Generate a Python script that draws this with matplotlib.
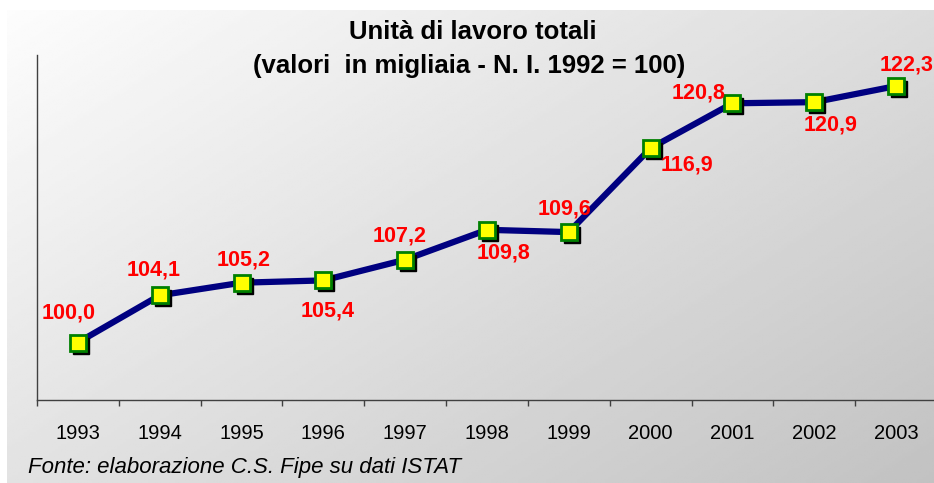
import numpy as np
import matplotlib.pyplot as plt
from matplotlib.transforms import offset_copy

plt.rcParams['font.family'] = ['Liberation Sans', 'DejaVu Sans']

years = ['1993', '1994', '1995', '1996', '1997', '1998',
         '1999', '2000', '2001', '2002', '2003']
values = [100.0, 104.1, 105.2, 105.4, 107.2, 109.8,
          109.6, 116.9, 120.8, 120.9, 122.3]
labels = ['100,0', '104,1', '105,2', '105,4', '107,2', '109,8',
          '109,6', '116,9', '120,8', '120,9', '122,3']
# label offsets (pixels) relative to each point
offsets = [(-9, 30), (-6, 25), (2, 23), (4, -31), (-6, 24), (17, -23),
           (-4, 23), (36, -17), (-34, 10), (16, -23), (10, 21)]

W, H = 934, 483
fig = plt.figure(figsize=(W / 100, H / 100), dpi=100)

# gradient background panel
bg = fig.add_axes([7 / W, 0, 1 - 7 / W, (H - 10) / H])
yy, xx = np.mgrid[0:1:200j, 0:1:300j]
grad = 0.99 - 0.23 * (0.55 * xx + 0.45 * yy)
bg.imshow(grad, cmap='gray', vmin=0, vmax=1, aspect='auto',
          extent=[0, 1, 0, 1], origin='upper')
bg.axis('off')

ax = fig.add_axes([37 / W, (H - 400) / H, 900 / W, 345 / H])
ax.patch.set_alpha(0)
x = np.arange(len(years))

ax.plot(x, values, color='#000080', lw=4.5, zorder=2, solid_joinstyle='miter')
shadow = offset_copy(ax.transData, fig=fig, x=3, y=-3, units='dots')
ax.plot(x, values, 's', ms=11, color='black', transform=shadow, zorder=3)
ax.plot(x, values, 's', ms=11, mfc='#ffff00', mec='#008000', mew=2, zorder=4)

for xi, v, lab, (dx, dy) in zip(x, values, labels, offsets):
    ax.annotate(lab, (xi, v), xytext=(dx, dy), textcoords='offset pixels',
                ha='center', va='center', color='#ff0000',
                fontsize=15.5, fontweight='bold', zorder=5)

ax.set_xlim(-0.5, len(years) - 0.5)
ax.set_ylim(95, 125)
ax.set_yticks([])
ax.set_xticks(np.arange(-0.5, len(years), 1.0))
ax.set_xticklabels([])
ax.set_xticks(x, minor=True)
ax.set_xticklabels(years, minor=True, fontsize=14.5)
ax.tick_params(axis='x', which='major', direction='out', length=4,
               width=1, color='#404040')
ax.tick_params(axis='x', which='minor', length=0, pad=17)
for s in ['top', 'right']:
    ax.spines[s].set_visible(False)
for s in ['left', 'bottom']:
    ax.spines[s].set_color('#404040')
    ax.spines[s].set_linewidth(1)

fig.text(473 / W, 1 - 32 / H, 'Unità di lavoro totali', ha='center',
         va='center', fontsize=18.5, fontweight='bold')
fig.text(469 / W, 1 - 66 / H, '(valori  in migliaia - N. I. 1992 = 100)',
         ha='center', va='center', fontsize=18.5, fontweight='bold')
fig.text(28 / W, 1 - 468 / H, 'Fonte: elaborazione C.S. Fipe su dati ISTAT',
         ha='left', va='center', fontsize=16, style='italic')

fig.savefig('out.png', dpi=100)
